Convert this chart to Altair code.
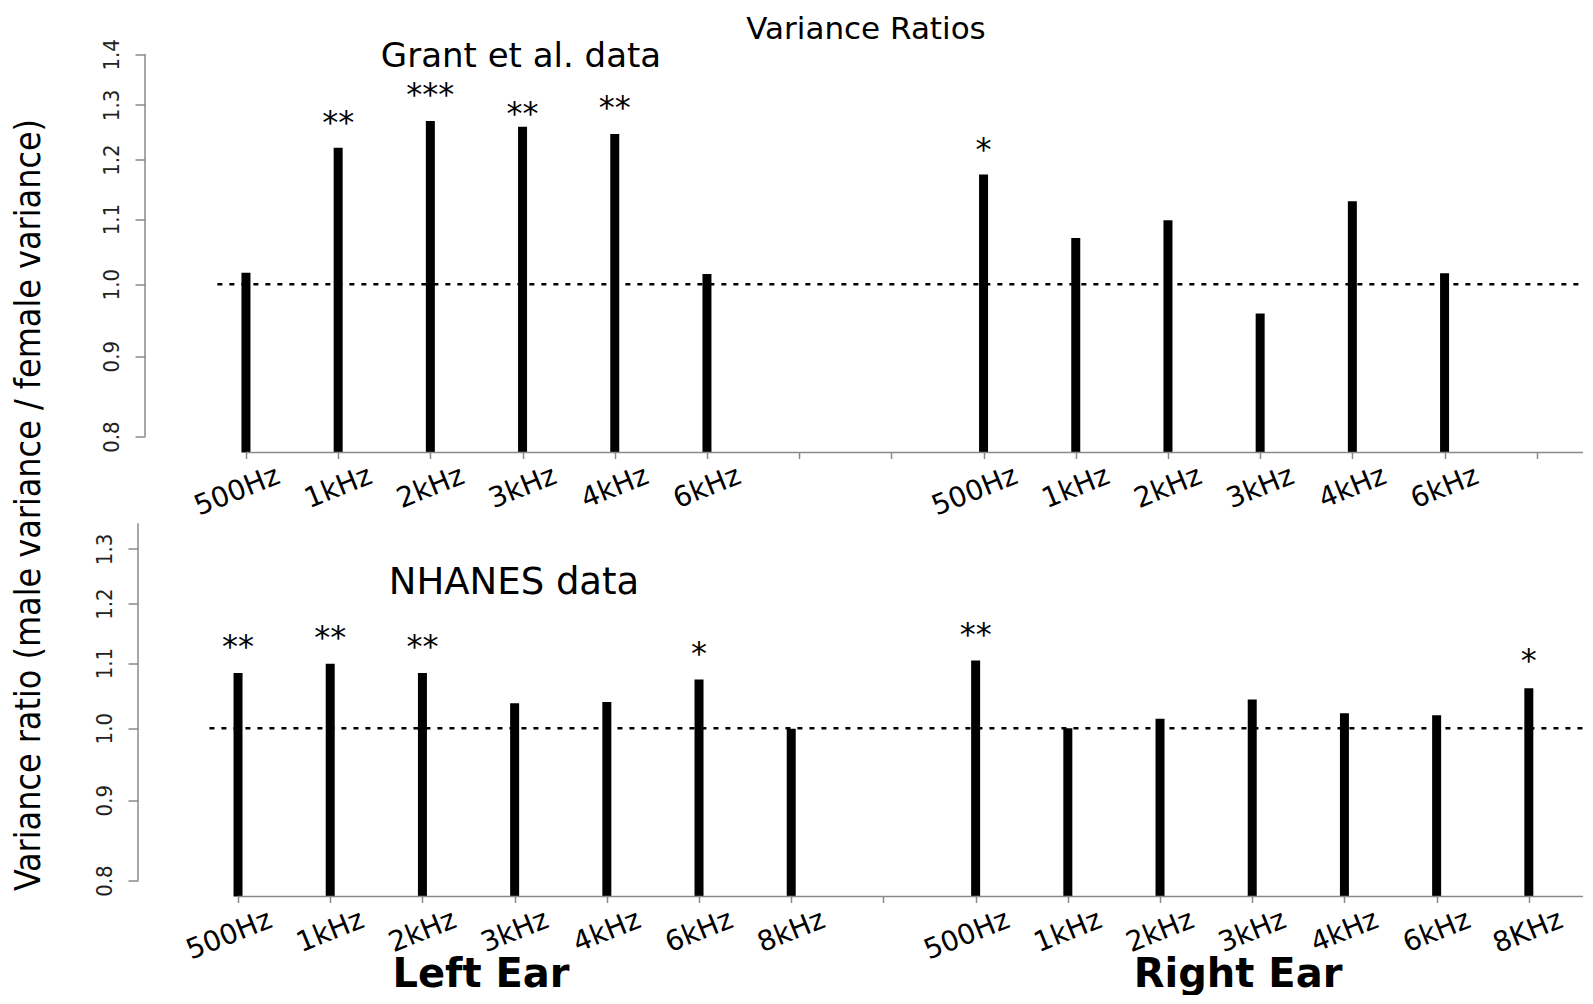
import altair as alt
import pandas as pd

# ---------------- data ----------------
top_left_labels = ["500Hz", "1kHz", "2kHz", "3kHz", "4kHz", "6kHz"]
top_right_labels = ["500Hz", "1kHz", "2kHz", "3kHz", "4kHz", "6kHz"]
grant_left = [1.017, 1.221, 1.270, 1.259, 1.246, 1.015]
grant_right = [1.174, 1.070, 1.098, 0.958, 1.129, 1.016]
grant_left_sig = ["", "**", "***", "**", "**", ""]
grant_right_sig = ["*", "", "", "", "", ""]
grant_left_star = [None, 1.276, 1.329, 1.293, 1.304, None]
grant_right_star = [1.226, None, None, None, None, None]

bot_left_labels = ["500Hz", "1kHz", "2kHz", "3kHz", "4kHz", "6kHz", "8kHz"]
bot_right_labels = ["500Hz", "1kHz", "2kHz", "3kHz", "4kHz", "6kHz", "8KHz"]
nhanes_left = [1.084, 1.099, 1.084, 1.037, 1.039, 1.074, 0.999]
nhanes_right = [1.104, 1.000, 1.014, 1.043, 1.022, 1.019, 1.060]
nhanes_left_sig = ["**", "**", "**", "", "", "*", ""]
nhanes_right_sig = ["**", "", "", "", "", "", "*"]
nhanes_left_star = [1.134, 1.149, 1.134, None, None, 1.123, None]
nhanes_right_star = [1.155, None, None, None, None, None, 1.111]

top_y_ticks = [0.8, 0.9, 1.0, 1.1, 1.2, 1.3, 1.4]
bot_y_ticks = [0.8, 0.9, 1.0, 1.1, 1.2, 1.3]

# ---------------- layout / style ----------------
W = 1438
H = 414
PX = 92.2
Y_DOMAIN = [0.7816, 1.4328]
GRAY = "#8a8a8a"
NARROW = "DejaVu Sans Condensed"
WIDE = "DejaVu Sans"


def build_df(left_vals, right_vals, left_sig, right_sig, left_star, right_star, gap_start):
    rows = []
    for i, v in enumerate(left_vals):
        rows.append({"pos": i, "value": v, "sig": left_sig[i], "star": left_star[i]})
    for i, v in enumerate(right_vals):
        rows.append({"pos": gap_start + i, "value": v, "sig": right_sig[i], "star": right_star[i]})
    return pd.DataFrame(rows)


def panel(df, labels_by_pos, n_ticks, x_min, y_ticks, y_axis_top, y_offset,
          y_title, texts):
    xs = alt.Scale(domain=[x_min, x_min + W / PX], nice=False, zero=False)
    ys = alt.Scale(type="log", domain=Y_DOMAIN, nice=False)
    arr = ",".join("'" + s + "'" for s in labels_by_pos)
    label_expr = "[" + arr + "][datum.value]"

    x_axis = alt.Axis(
        values=list(range(n_ticks)), labelExpr=label_expr, title=None,
        domain=False, grid=False, tickSize=6, tickColor=GRAY, tickWidth=1.5,
        labelAngle=-22, labelAlign="right", labelBaseline="top",
        labelOffset=27, labelPadding=3, labelFont=WIDE, labelFontSize=28,
        labelColor="black", labelOverlap=False, labelFlush=False,
    )
    y_axis_kw = dict(
        values=y_ticks, format=".1f", domain=False, grid=False,
        tickSize=10, tickColor=GRAY, tickWidth=1.5,
        labelAngle=270, labelAlign="center", labelBaseline="alphabetic",
        labelPadding=17, labelFont=NARROW, labelFontSize=22, labelColor="#222",
        labelOverlap=False, labelFlush=False, offset=y_offset,
    )
    if y_title:
        y_axis_kw.update(
            title=y_title, titleFont=NARROW, titleFontSize=35.5,
            titleFontWeight="normal", titleColor="black", titleAngle=270,
            titleAlign="center", titleBaseline="middle",
            titleX=-116.6, titleY=466,
        )
    else:
        y_axis_kw.update(title=None)

    bars = alt.Chart(df).mark_rule(color="black", strokeWidth=9).encode(
        x=alt.X("pos:Q", scale=xs, axis=x_axis),
        y=alt.Y("value:Q", scale=ys, axis=alt.Axis(**y_axis_kw)),
        y2=alt.datum(Y_DOMAIN[0]),
    )

    stars = alt.Chart(df).transform_filter("datum.sig != ''").mark_text(
        font=WIDE, fontSize=32, baseline="alphabetic", dy=15, color="black"
    ).encode(
        x=alt.X("pos:Q", scale=xs),
        y=alt.Y("star:Q", scale=ys),
        text="sig:N",
    )

    ref = alt.Chart(pd.DataFrame({"pos": [-0.31], "value": [1.0]})).mark_rule(
        color="black", strokeWidth=2.5, strokeDash=[5, 7]
    ).encode(
        x=alt.X("pos:Q", scale=xs),
        x2=alt.value(W),
        y=alt.Y("value:Q", scale=ys),
    )

    x_line = alt.Chart(pd.DataFrame({"pos": [0]})).mark_rule(
        color=GRAY, strokeWidth=1.5
    ).encode(
        x=alt.X("pos:Q", scale=xs),
        x2=alt.value(W),
        y=alt.value(H),
    )

    y_line = alt.Chart(pd.DataFrame({"value": [y_ticks[0]], "b": [y_axis_top]})).mark_rule(
        color=GRAY, strokeWidth=1.5
    ).encode(
        x=alt.value(-y_offset),
        y=alt.Y("value:Q", scale=ys),
        y2="b:Q",
    )

    layers = [bars, stars, ref, x_line, y_line]
    for t in texts:
        layers.append(
            alt.Chart(pd.DataFrame({"t": [t["text"]]})).mark_text(
                font=WIDE, fontSize=t["size"], fontWeight=t.get("weight", "normal"),
                align="center", baseline="alphabetic", color="black",
            ).encode(text="t:N", x=alt.value(t["x"]), y=alt.value(t["y"]))
        )
    return alt.layer(*layers).properties(width=W, height=H)


top_df = build_df(grant_left, grant_right, grant_left_sig, grant_right_sig,
                  grant_left_star, grant_right_star, 8)
bot_df = build_df(nhanes_left, nhanes_right, nhanes_left_sig, nhanes_right_sig,
                  nhanes_left_star, nhanes_right_star, 8)

top_labels = top_left_labels + ["", ""] + top_right_labels + ["", ""]
bot_labels = bot_left_labels + [""] + bot_right_labels + [""]

top = panel(
    top_df, top_labels, 15, -1.095, top_y_ticks, 1.4, 0,
    "Variance ratio (male variance / female variance)",
    [
        {"text": "Variance Ratios", "size": 31, "x": 721, "y": 0},
        {"text": "Grant et al. data", "size": 34, "x": 376, "y": 28},
    ],
)
bottom = panel(
    bot_df, bot_labels, 15, -1.009, bot_y_ticks, 1.35, 7, None,
    [
        {"text": "NHANES data", "size": 37, "x": 369, "y": 111},
        {"text": "Left Ear", "size": 40, "weight": "bold", "x": 336, "y": 504},
        {"text": "Right Ear", "size": 40, "weight": "bold", "x": 1093, "y": 504},
    ],
)

chart = alt.vconcat(top, bottom, spacing=30, bounds="flush").properties(
    padding={"left": 3, "top": 5.5, "right": 0, "bottom": 0}
).configure_view(stroke=None)

chart.save("out.html", embed_options={"renderer": "svg", "actions": False})
